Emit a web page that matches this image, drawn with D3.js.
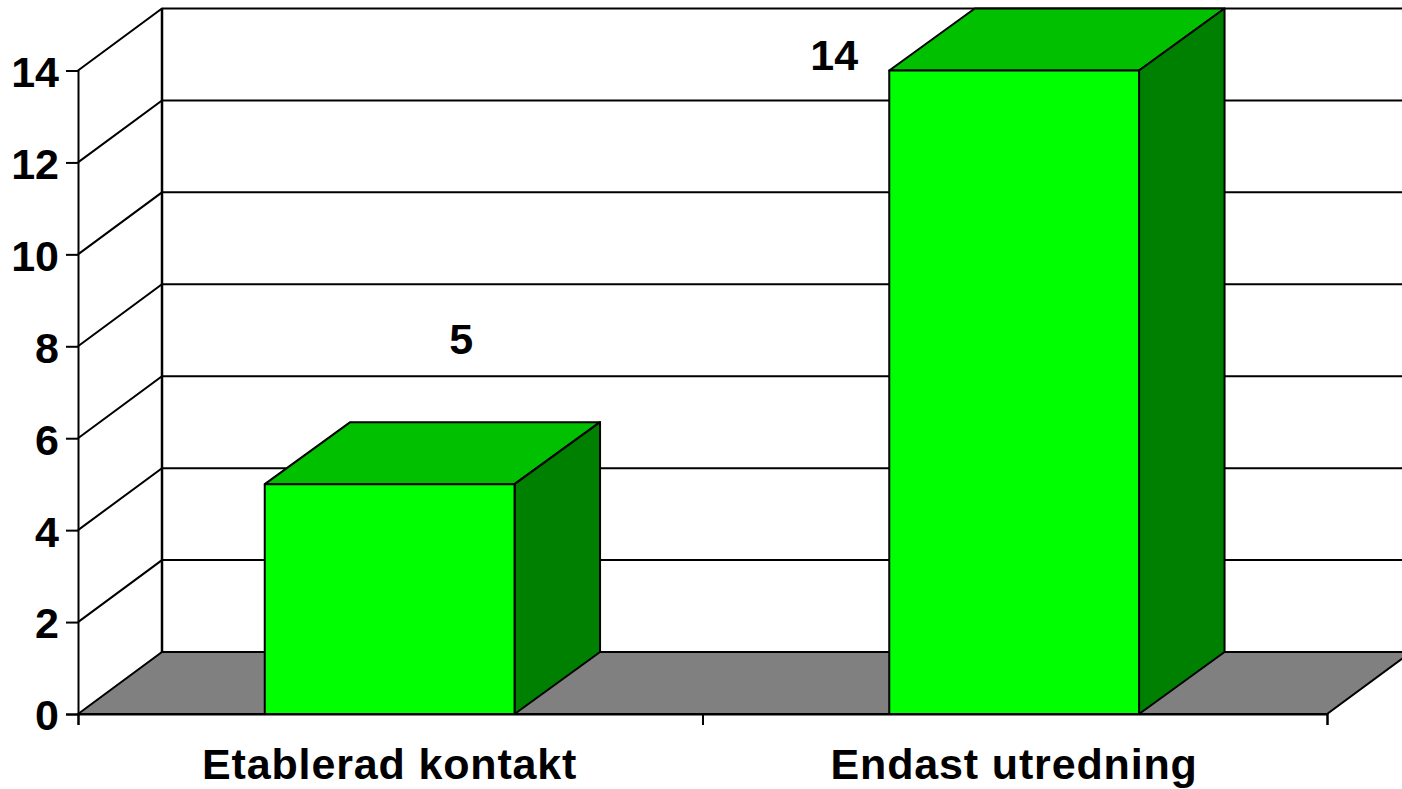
<!DOCTYPE html>
<html>
<head>
<meta charset="utf-8">
<script src="https://cdnjs.cloudflare.com/ajax/libs/d3/7.8.5/d3.min.js"></script>
<style>
html, body { margin: 0; padding: 0; background: #fff; overflow: hidden; }
svg { display: block; }
text { font-family: "Liberation Sans", Arial, sans-serif; font-weight: bold; fill: #000; }
</style>
</head>
<body>
<div id="chart"></div>
<script>
const categories = ["Etablerad kontakt", "Endast utredning"];
const values = [5, 14];
const yTicks = [0, 2, 4, 6, 8, 10, 12, 14];

let width = 1402;
let height = 789;
let left = 78, right = 1327, bottom = 714, top14 = 70.5;
let depthX = 84, depthY = -62;
let fontSize = 43;
let barDepthX = 85.5;

let svg = d3.select("#chart").append("svg")
	.attr("width", width)
	.attr("height", height);

let xScale = d3.scaleBand()
	.domain(categories)
	.range([left - 0.6, right - 0.6])
	.paddingInner(0.6)
	.paddingOuter(0.3);

let yScale = d3.scaleLinear()
	.domain([0, 14])
	.range([bottom, top14]);

let edgeScale = d3.scaleLinear()
	.domain([0, categories.length])
	.range([left, right]);

let line = d3.line();

// floor
svg.append("path")
	.attr("d", line([[left, bottom], [left + depthX, bottom + depthY], [right + depthX, bottom + depthY], [right, bottom]]) + "Z")
	.attr("fill", "#808080")
	.attr("stroke", "#000")
	.attr("stroke-width", 2);

// gridlines on the back and side walls
let grid = svg.append("g")
	.attr("fill", "none")
	.attr("stroke", "#000")
	.attr("stroke-width", 2);

yTicks.filter(d => d > 0).forEach(d => {
	grid.append("path")
		.attr("d", line([[left, yScale(d)], [left + depthX, yScale(d) + depthY], [right + depthX, yScale(d) + depthY]]));
});

grid.append("path")
	.attr("d", line([[left + depthX, yScale(14) + depthY], [left + depthX, bottom + depthY]]))
	.attr("stroke-width", 2.5);

// bars: top, side, then front
let bars = svg.selectAll("g.bar")
	.data(categories.map((c, i) => ({ category: c, value: values[i] })))
	.enter()
	.append("g")
	.attr("class", "bar")
	.attr("stroke", "#000")
	.attr("stroke-width", 2)
	.attr("stroke-linejoin", "round");

bars.append("path")
	.attr("fill", "#00C000")
	.attr("d", d => {
		let x0 = xScale(d.category), x1 = x0 + xScale.bandwidth(), y = yScale(d.value);
		return line([[x0, y], [x0 + barDepthX, y + depthY], [x1 + barDepthX, y + depthY], [x1, y]]) + "Z";
	});

bars.append("path")
	.attr("fill", "#008000")
	.attr("d", d => {
		let x1 = xScale(d.category) + xScale.bandwidth(), y = yScale(d.value);
		return line([[x1, y], [x1 + barDepthX, y + depthY], [x1 + barDepthX, bottom + depthY], [x1, bottom]]) + "Z";
	});

bars.append("rect")
	.attr("fill", "#00FF00")
	.attr("x", d => xScale(d.category))
	.attr("y", d => yScale(d.value))
	.attr("width", xScale.bandwidth())
	.attr("height", d => bottom - yScale(d.value));

// value labels sit off the bars, where the original chart left them
let labelShift = [[71.5, -130], [-180, -1]];

svg.selectAll("text.value")
	.data(values)
	.enter()
	.append("text")
	.attr("class", "value")
	.attr("x", (d, i) => xScale(categories[i]) + xScale.bandwidth() / 2 + labelShift[i][0])
	.attr("y", (d, i) => yScale(d) + labelShift[i][1])
	.attr("text-anchor", "middle")
	.attr("font-size", fontSize)
	.text(d => d);

// axes
let yAxis = d3.axisLeft(yScale)
	.tickValues(yTicks)
	.tickSize(12)
	.tickPadding(7)
	.tickFormat(d3.format("d"));

let yG = svg.append("g")
	.attr("transform", `translate(${left},0)`)
	.call(yAxis);

let xTicks = d3.axisBottom(edgeScale)
	.tickValues(d3.range(categories.length + 1))
	.tickSize(11)
	.tickFormat("");

let xTickG = svg.append("g")
	.attr("transform", `translate(0,${bottom})`)
	.call(xTicks);

let xAxis = d3.axisBottom(xScale)
	.tickSize(0)
	.tickPadding(34);

let xG = svg.append("g")
	.attr("transform", `translate(0,${bottom})`)
	.call(xAxis);

xG.select(".domain").remove();

[yG, xTickG].forEach(g => {
	g.selectAll(".domain").attr("stroke", "#000").attr("stroke-width", 2);
	g.selectAll(".tick line").attr("stroke", "#000").attr("stroke-width", 2);
});

[yG, xG].forEach(g => {
	g.selectAll("text")
		.attr("font-size", fontSize)
		.attr("font-family", "'Liberation Sans', Arial, sans-serif")
		.attr("font-weight", "bold")
		.attr("fill", "#000");
});

yG.selectAll("text").attr("dy", "0.37em");
xG.selectAll("text").attr("letter-spacing", 0.85);
</script>
</body>
</html>
